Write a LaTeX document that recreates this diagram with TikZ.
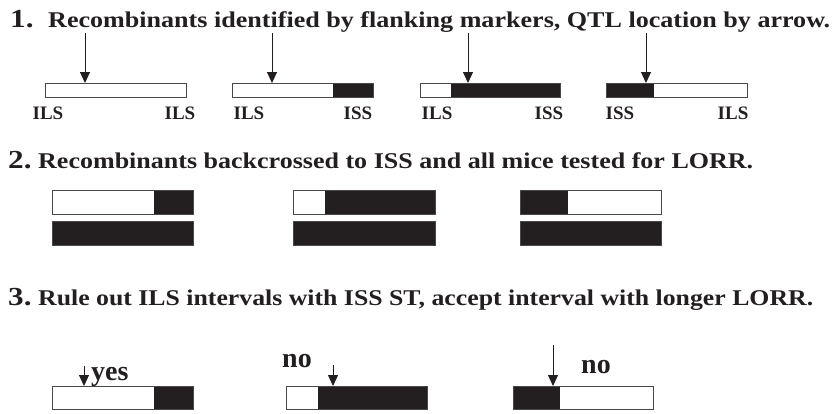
\documentclass[tikz,border=0pt]{standalone}
\usepackage{fontspec}
\setmainfont{Liberation Serif}
\usetikzlibrary{arrows.meta}
\definecolor{ink}{HTML}{231F20}
\definecolor{rim}{HTML}{4A4748}

\tikzset{
  chrombox/.style={draw=rim, line width=0.8pt},
  issseg/.style={fill=ink},
  qtl/.style={draw=ink, line width=1pt, arrows={-Triangle[length=11pt, width=10pt, fill=ink]}},
  stepnum/.style={anchor=base west, inner sep=0pt, text=ink,
    font=\fontsize{26}{26}\selectfont\bfseries},
  steptext/.style={anchor=base west, inner sep=0pt, text=ink,
    font=\fontsize{22.5}{22.5}\selectfont\bfseries},
  strain/.style={anchor=base, inner sep=0pt, text=ink,
    font=\fontsize{19}{19}\selectfont\bfseries},
  verdict/.style={anchor=base west, inner sep=0pt, text=ink,
    font=\fontsize{28}{28}\selectfont\bfseries}
}

% a chromosome bar: #1 name, #2 left, #3 right, #4 top, #5 bottom, #6 ISS from, #7 ISS to
\newcommand\chrombar[7]{%
  \fill[white] (#2,#4) rectangle (#3,#5);
  \fill[issseg] (#6,#4) rectangle (#7,#5);
  \draw[chrombox] (#2,#4) rectangle (#3,#5);
  \coordinate (#1) at (#2,#4);
}

\begin{document}
\begin{tikzpicture}[x=1pt,y=-1pt]
\useasboundingbox (0,0) rectangle (839,413);

% ---------- step 1 ----------
\node[stepnum] (n1) at (10,27) {\scalebox{1.2}[1]{1.}};
\node[steptext] (t1) at (48,27)
  {\resizebox{782pt}{\height}{Recombinants identified by flanking markers, QTL location by arrow.}};

\chrombar{a1}{45}{186}{83}{97}{186}{186}
\chrombar{a2}{232}{373}{83}{97}{333}{373}
\chrombar{a3}{420}{560}{83}{97}{451}{560}
\chrombar{a4}{606}{747}{83}{97}{606}{654}

\foreach \nm/\x in {q1/85, q2/272, q3/468, q4/646}{
  \coordinate (\nm s) at (\x,33);
  \coordinate (\nm e) at (\x,83);
}
\draw[qtl] (q1s) -- (q1e);
\draw[qtl] (q2s) -- (q2e);
\draw[qtl] (q3s) -- (q3e);
\draw[qtl] (q4s) -- (q4e);

\foreach \nm/\x/\s in {l1/48/ILS, l2/180/ILS, l3/249/ILS, l4/358/ISS,
                       l5/437/ILS, l6/549/ISS, l7/620/ISS, l8/733/ILS}{
  \node[strain] (\nm) at (\x,119) {\s};
}

% ---------- step 2 ----------
\node[stepnum] (n2) at (8,168) {\scalebox{1.2}[1]{2.}};
\node[steptext] (t2) at (38,168)
  {\resizebox{715pt}{\height}{Recombinants backcrossed to ISS and all mice tested for LORR.}};

\chrombar{b1}{52}{193}{190}{214}{154}{193}
\chrombar{b2}{52}{193}{221}{245}{52}{193}
\chrombar{b3}{293}{435}{190}{214}{325}{435}
\chrombar{b4}{293}{435}{221}{245}{293}{435}
\chrombar{b5}{520}{661}{190}{214}{520}{568}
\chrombar{b6}{520}{661}{221}{245}{520}{661}

% ---------- step 3 ----------
\node[stepnum] (n3) at (8,305) {\scalebox{1.2}[1]{3.}};
\node[steptext] (t3) at (38,305)
  {\resizebox{775pt}{\height}{Rule out ILS intervals with ISS ST, accept interval with longer LORR.}};

\chrombar{c1}{52}{193}{386}{409}{154}{193}
\chrombar{c2}{286}{427}{386}{409}{318}{427}
\chrombar{c3}{513}{653}{386}{409}{513}{560}

\coordinate (r1s) at (84,366);  \coordinate (r1e) at (84,386);
\coordinate (r2s) at (333,365); \coordinate (r2e) at (333,386);
\coordinate (r3s) at (553,345); \coordinate (r3e) at (553,386);
\draw[qtl] (r1s) -- (r1e);
\draw[qtl] (r2s) -- (r2e);
\draw[qtl] (r3s) -- (r3e);

\node[verdict] (v1) at (91,380) {yes};
\node[verdict] (v2) at (282,367) {no};
\node[verdict] (v3) at (581,373) {no};

\end{tikzpicture}
\end{document}
